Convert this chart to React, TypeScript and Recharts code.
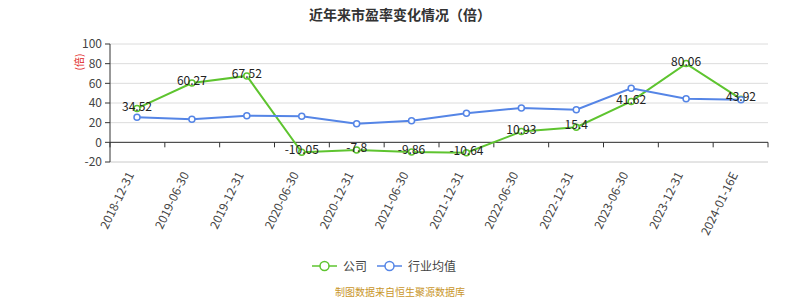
import React from 'react';
import { LineChart, Line, XAxis, YAxis, CartesianGrid, Legend, LabelList, ReferenceLine } from 'recharts';

const dates = [
  '2018-12-31', '2019-06-30', '2019-12-31', '2020-06-30', '2020-12-31', '2021-06-30',
  '2021-12-31', '2022-06-30', '2022-12-31', '2023-06-30', '2023-12-31', '2024-01-16E',
];
const company = [34.52, 60.27, 67.52, -10.05, -7.8, -9.86, -10.64, 10.93, 15.4, 41.62, 80.06, 43.92];
const industry = [25.4, 23.6, 27.1, 26.6, 18.9, 22.0, 29.5, 34.9, 33.2, 55.0, 44.4, 43.4];
const yTicks = [-20, 0, 20, 40, 60, 80, 100];

const data = dates.map((d, i) => ({ date: d, company: company[i], industry: industry[i] }));

const FONT = '"Microsoft YaHei", "Noto Sans CJK SC", sans-serif';
const GREEN = '#5ec42f';
const BLUE = '#5585e6';

const XTick = (props: any) => {
  const { x, y, payload } = props;
  return (
    <g transform={`translate(${x - 8},${y + 2})`}>
      <text x={0} y={6} textAnchor="end" fill="#444" fontSize={12} fontFamily={FONT} transform="rotate(-64)">
        {payload.value}
      </text>
    </g>
  );
};

// zero axis with ticks at category boundaries
const ZeroAxis = (props: any) => {
  const { x1, x2, y1 } = props;
  const n = dates.length;
  const step = (x2 - x1) / n;
  const ticks = [];
  for (let i = 0; i <= n; i++) {
    const tx = x1 + step * i;
    ticks.push(<line key={i} x1={tx} x2={tx} y1={y1} y2={y1 + 5} stroke="#333" strokeWidth={1} />);
  }
  return (
    <g>
      <line x1={x1} x2={x2} y1={y1} y2={y1} stroke="#333" strokeWidth={1} />
      {ticks}
    </g>
  );
};

const ValueLabel = (props: any) => {
  const { x, y, value } = props;
  return (
    <text x={x} y={y - 2} dy="0.35em" textAnchor="middle" fill="#222" fontSize={12} fontFamily={FONT}>
      {value}
    </text>
  );
};

const UnitLabel = (props: any) => {
  const { viewBox } = props;
  const cx = 78;
  const cy = viewBox.y + 18;
  return (
    <text x={cx} y={cy} textAnchor="middle" dominantBaseline="central" fill="#e02020" fontSize={10} fontFamily={FONT} transform={`rotate(-90, ${cx}, ${cy})`}>
      (倍)
    </text>
  );
};

const LegendContent = (props: any) => {
  const { payload } = props;
  return (
    <div style={{ display: 'flex', justifyContent: 'center', alignItems: 'center', gap: 10 }}>
      {(payload || []).map((p: any) => (
        <div key={p.value} style={{ display: 'flex', alignItems: 'center' }}>
          <svg width={25} height={14} style={{ marginRight: 6 }}>
            <line x1={0} x2={25} y1={7} y2={7} stroke={p.color} strokeWidth={1.5} />
            <circle cx={12.5} cy={7} r={4.5} fill="#fff" stroke={p.color} strokeWidth={1.5} />
          </svg>
          <span style={{ fontSize: 12, color: '#444' }}>{p.value}</span>
        </div>
      ))}
    </div>
  );
};

const App: React.FC = () => {
  return (
    <div style={{ position: 'absolute', left: 0, top: 0, width: 800, height: 300, fontFamily: FONT, background: '#fff' }}>
      <div style={{ position: 'absolute', top: 4, width: 800, textAlign: 'center', fontSize: 14, fontWeight: 'bold', color: '#333' }}>
        近年来市盈率变化情况（倍）
      </div>
      <LineChart width={800} height={300} data={data} margin={{ top: 44, right: 32, left: 0, bottom: 0 }}>
        <CartesianGrid horizontal vertical={false} stroke="#dcdcdc" />
        <XAxis
          dataKey="date"
          interval={0}
          tickLine={false}
          axisLine={{ stroke: '#dcdcdc' }}
          tick={<XTick />}
          padding={{ left: 27, right: 27 }}
          height={112}
        />
        <YAxis
          width={110}
          domain={[-20, 100]}
          ticks={yTicks}
          interval={0}
          tickSize={5}
          tickMargin={3}
          axisLine={{ stroke: '#333' }}
          tickLine={{ stroke: '#333' }}
          tick={{ fill: '#444', fontSize: 12, fontFamily: FONT }}
          label={<UnitLabel />}
        />
        <ReferenceLine y={0} shape={<ZeroAxis />} />
        <Legend
          verticalAlign="bottom"
          height={26}
          content={<LegendContent />}
          wrapperStyle={{ bottom: 17 }}
        />
        <Line
          type="linear"
          dataKey="company"
          name="公司"
          stroke={GREEN}
          strokeWidth={2}
          dot={{ r: 3, fill: '#fff', stroke: GREEN, strokeWidth: 1.5 }}
          isAnimationActive={false}
        >
          <LabelList dataKey="company" content={<ValueLabel />} />
        </Line>
        <Line
          type="linear"
          dataKey="industry"
          name="行业均值"
          stroke={BLUE}
          strokeWidth={2}
          dot={{ r: 3, fill: '#fff', stroke: BLUE, strokeWidth: 1.5 }}
          isAnimationActive={false}
        />
      </LineChart>
      <div style={{ position: 'absolute', top: 286, width: 800, textAlign: 'center', fontSize: 10, lineHeight: '12px', color: '#c9962b' }}>
        制图数据来自恒生聚源数据库
      </div>
    </div>
  );
};

export default App;
